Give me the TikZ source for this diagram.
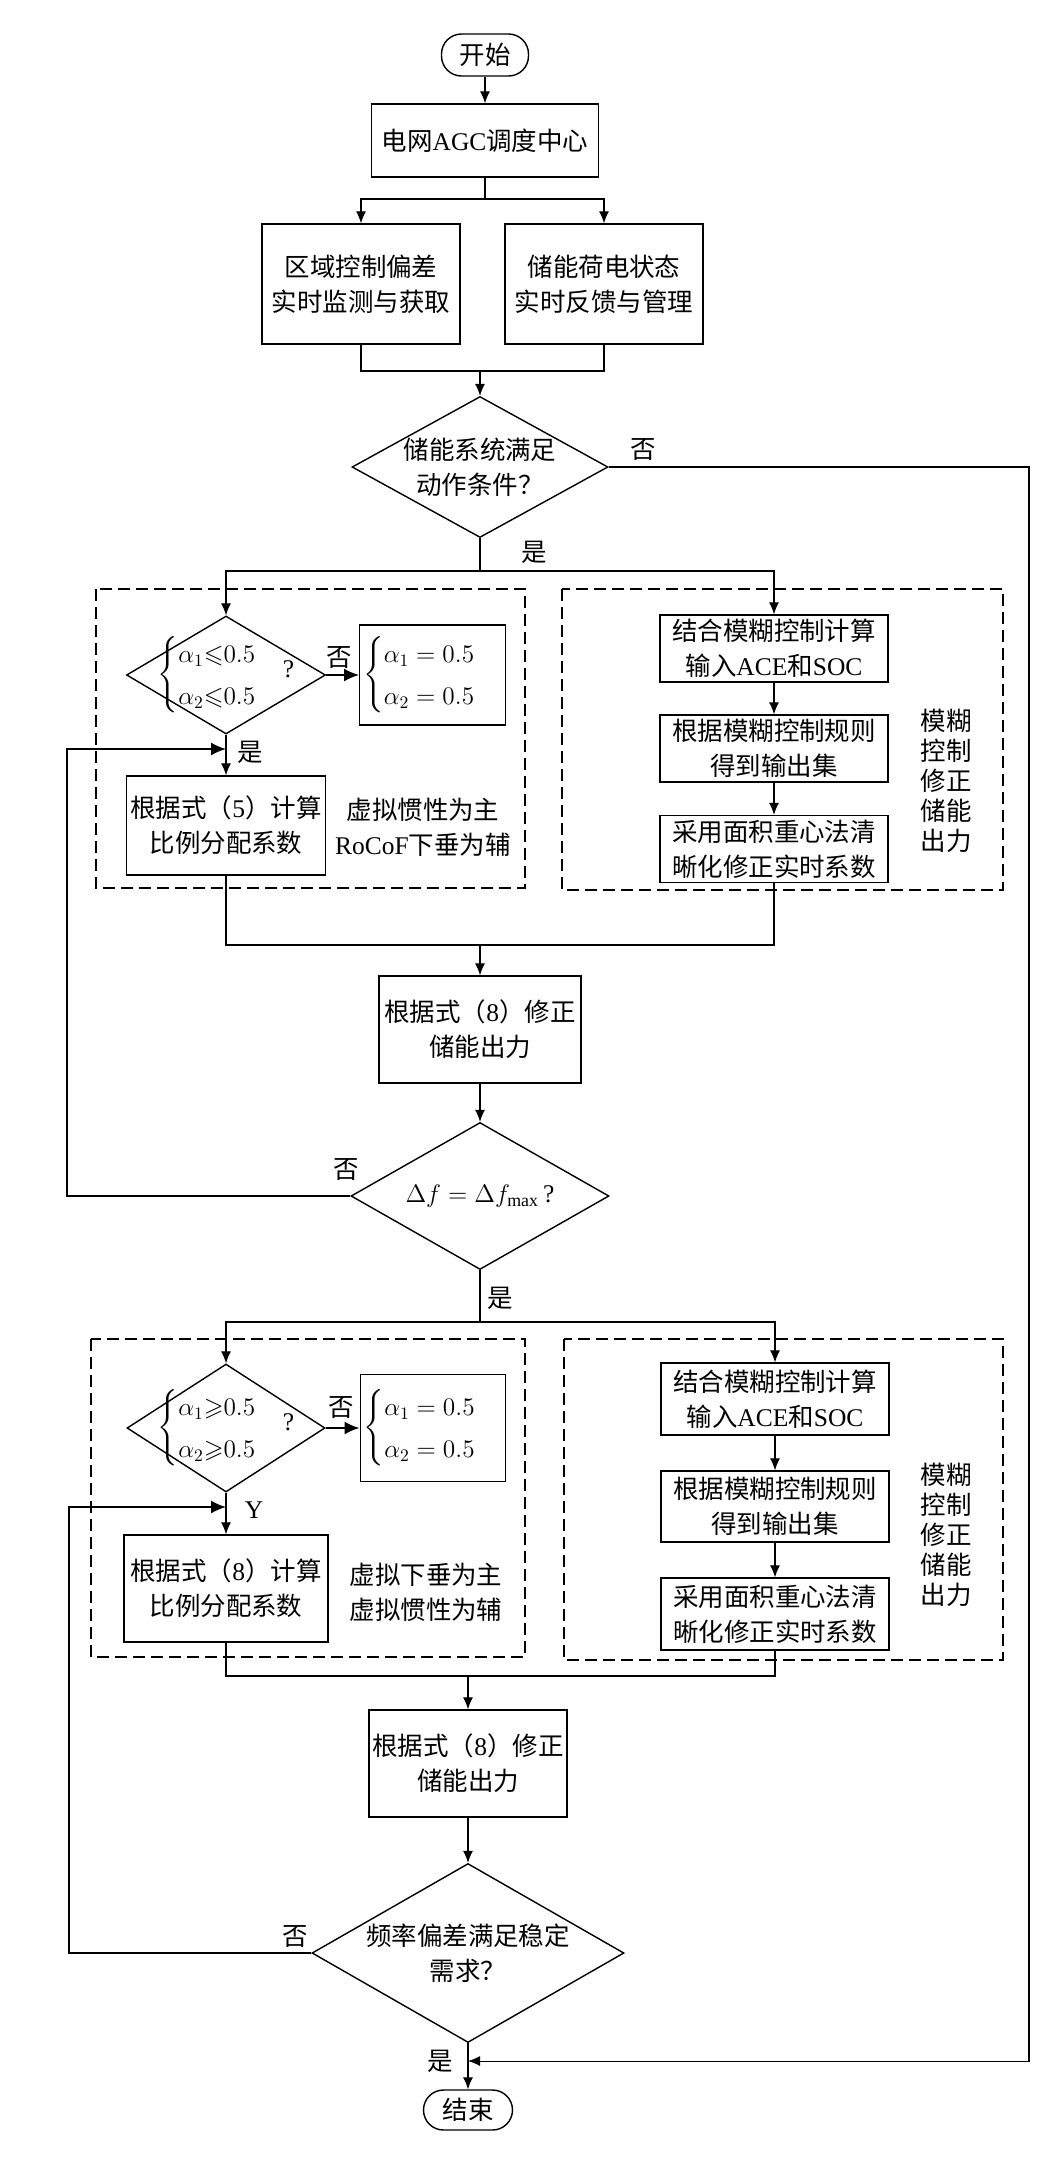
\documentclass[tikz,border=0pt]{standalone}
\usepackage{amsmath,amssymb}
\usepackage{fontspec}
\setmainfont{Liberation Serif}
\newfontfamily\cjk{Noto Sans CJK SC}
\newcommand{\en}[1]{{\rmfamily #1}}
\usetikzlibrary{
	arrows.meta,
	positioning,
	shapes.geometric,
	calc
}
\tikzset{
  % arrow
	cstra/.style      ={-{Latex[length=0.24cm,width=0.2cm]}},       % right arrow
	cstwra/.style     ={-{Latex[length=0.3cm,width=0.26cm]}, line width=1pt}, % wide ra
  % line
	cstdash/.style    ={line width=0.6pt, dash pattern= on 0.24cm off 0.12cm}, %虚线
  % node
	cstnode/.style    ={draw=black,text=black,line width=0.8pt,align=center,inner sep=2pt},
	cstbox/.style     ={cstnode,rectangle},
	cstdia/.style     ={cstnode,diamond,inner sep=-0.6cm},
	cstterm/.style    ={cstnode,rectangle,rounded corners=0.4cm},
	cstlab/.style     ={inner sep=1pt,align=center}
}
\begin{document}
\begin{tikzpicture}[line width=0.6pt, font=\cjk\fontsize{14.5}{19.9}\selectfont]
	\useasboundingbox (0,0) rectangle (20.92,-43.18);
	% 上部
	\node[cstterm, minimum width=1.74cm, minimum height=0.84cm] (start) at (9.7,-1.1) {开始};
	\node[cstbox, minimum width=4.54cm, minimum height=1.46cm] (agc) at (9.7,-2.81) {电网\en{AGC}调度中心};
	\node[cstbox, minimum width=3.96cm, minimum height=2.4cm] (lbox1) at (7.22,-5.68) {区域控制偏差\\实时监测与获取};
	\node[cstbox, minimum width=3.96cm, minimum height=2.4cm] (rbox1) at (12.08,-5.68) {储能荷电状态\\实时反馈与管理};
	\node[cstdia, minimum width=5.12cm, minimum height=2.82cm] (dia1) at (9.6,-9.34) {储能系统满足\\动作条件？};
	\coordinate (s1) at (9.7,-3.98);
	\coordinate (m1) at (9.6,-7.42);
	\coordinate (s2) at (9.6,-11.42);
	\coordinate (rr) at (20.58,-41.22);
	\draw[cstra] (start) -- (agc);
	\draw (agc) -- (s1);
	\draw[cstra] (s1) -| (lbox1);
	\draw[cstra] (s1) -| (rbox1);
	\draw (lbox1) |- (m1);
	\draw (rbox1) |- (m1);
	\draw[cstra] (m1) -- (dia1);
	\draw (dia1) -- (s2);
	\node[cstlab] (no1) at (12.86,-9.0) {否};
	\node[cstlab] (yes1) at (10.68,-11.04) {是};
	% 第一组
	\draw[cstdash] (1.92,-11.78) rectangle (10.5,-17.76);
	\draw[cstdash] (11.24,-11.78) rectangle (20.06,-17.8);
	\node[cstdia, minimum width=3.98cm, minimum height=2.36cm] (sdia1) at (4.52,-13.5)
		{$\begin{cases}\alpha_1{\leqslant}0.5\\ \alpha_2{\leqslant}0.5\end{cases}$\raisebox{2pt}{\en{?}}};
	\node[cstbox, minimum width=2.82cm, minimum height=2.0cm] (abox1) at (8.65,-13.5)
		{$\begin{cases}\alpha_1=0.5\\ \alpha_2=0.5\end{cases}$};
	\node[cstbox, minimum width=3.98cm, minimum height=1.98cm] (cbox1) at (4.52,-16.51) {根据式（\en{5}）计算\\比例分配系数};
	\node[cstlab] (note1) at (8.46,-16.54) {虚拟惯性为主\\\en{RoCoF}下垂为辅};
	\node[cstbox, minimum width=4.56cm, minimum height=1.34cm] (f1) at (15.48,-12.97) {结合模糊控制计算\\输入\en{ACE}和\en{SOC}};
	\node[cstbox, minimum width=4.56cm, minimum height=1.34cm] (f2) at (15.48,-14.97) {根据模糊控制规则\\得到输出集};
	\node[cstbox, minimum width=4.56cm, minimum height=1.34cm] (f3) at (15.48,-16.98) {采用面积重心法清\\晰化修正实时系数};
	\node[cstlab, font=\cjk\fontsize{14.5}{17}\selectfont] (fz1) at (18.92,-15.62) {模糊\\控制\\修正\\储能\\出力};
	\coordinate (fb1) at (4.52,-14.98);
	\coordinate (m2) at (9.6,-18.9);
	\draw[cstra] (s2) -| (sdia1);
	\draw[cstra] (s2) -| (f1);
	\draw[cstwra] (sdia1) -- (abox1);
	\draw[cstra] (sdia1) -- (cbox1);
	\draw[cstra] (f1) -- (f2);
	\draw[cstra] (f2) -- (f3);
	\draw (cbox1) |- (m2);
	\draw (f3) |- (m2);
	\node[cstlab] (no2) at (6.78,-13.16) {否};
	\node[cstlab] (yes2) at (5.0,-15.04) {是};
	% 中部
	\node[cstbox, minimum width=4.04cm, minimum height=2.14cm] (mbox1) at (9.6,-20.59) {根据式（\en{8}）修正\\储能出力};
	\node[cstdia, minimum width=5.16cm, minimum height=2.94cm] (dia2) at (9.6,-23.92) {$\Delta f=\Delta f_{\max}$\,\en{?}};
	\coordinate (fbl1) at (1.34,-23.92);
	\coordinate (s3) at (9.6,-26.44);
	\draw[cstra] (m2) -- (mbox1);
	\draw[cstra] (mbox1) -- (dia2);
	\draw[cstwra] (dia2) -- (fbl1) |- (fb1);
	\draw (dia2) -- (s3);
	\node[cstlab] (no3) at (6.92,-23.4) {否};
	\node[cstlab] (yes3) at (10.0,-25.96) {是};
	% 第二组
	\draw[cstdash] (1.82,-26.78) rectangle (10.5,-33.14);
	\draw[cstdash] (11.28,-26.78) rectangle (20.06,-33.2);
	\node[cstdia, minimum width=3.96cm, minimum height=2.56cm] (sdia2) at (4.52,-28.56)
		{$\begin{cases}\alpha_1{\geqslant}0.5\\ \alpha_2{\geqslant}0.5\end{cases}$\raisebox{2pt}{\en{?}}};
	\node[cstbox, minimum width=2.76cm, minimum height=2.14cm] (abox2) at (8.66,-28.56)
		{$\begin{cases}\alpha_1=0.5\\ \alpha_2=0.5\end{cases}$};
	\node[cstbox, minimum width=4.08cm, minimum height=2.14cm] (cbox2) at (4.52,-31.77) {根据式（\en{8}）计算\\比例分配系数};
	\node[cstlab] (note2) at (8.52,-31.84) {虚拟下垂为主\\虚拟惯性为辅};
	\node[cstbox, minimum width=4.56cm, minimum height=1.44cm] (g1) at (15.5,-27.98) {结合模糊控制计算\\输入\en{ACE}和\en{SOC}};
	\node[cstbox, minimum width=4.56cm, minimum height=1.42cm] (g2) at (15.5,-30.13) {根据模糊控制规则\\得到输出集};
	\node[cstbox, minimum width=4.56cm, minimum height=1.44cm] (g3) at (15.5,-32.28) {采用面积重心法清\\晰化修正实时系数};
	\node[cstlab, font=\cjk\fontsize{14.5}{17}\selectfont] (fz2) at (18.92,-30.7) {模糊\\控制\\修正\\储能\\出力};
	\coordinate (fb2) at (4.52,-30.14);
	\coordinate (m3) at (9.36,-33.52);
	\draw[cstra] (s3) -| (sdia2);
	\draw[cstra] (s3) -| (g1);
	\draw[cstwra] (sdia2) -- (abox2);
	\draw[cstra] (sdia2) -- (cbox2);
	\draw[cstra] (g1) -- (g2);
	\draw[cstra] (g2) -- (g3);
	\draw (cbox2) |- (m3);
	\draw (g3) |- (m3);
	\node[cstlab] (no4) at (6.82,-28.16) {否};
	\node[cstlab] (yes4) at (5.08,-30.2) {\en{Y}};
	% 下部
	\node[cstbox, minimum width=3.9cm, minimum height=2.14cm] (mbox2) at (9.36,-35.27) {根据式（\en{8}）修正\\储能出力};
	\node[cstdia, minimum width=6.24cm, minimum height=3.58cm] (dia3) at (9.36,-39.06) {频率偏差满足稳定\\需求？};
	\node[cstterm, minimum width=1.78cm, minimum height=0.8cm] (end) at (9.36,-42.2) {结束};
	\coordinate (fbl2) at (1.38,-39.06);
	\coordinate (y3) at (9.36,-41.22);
	\draw[cstra] (m3) -- (mbox2);
	\draw[cstra] (mbox2) -- (dia3);
	\draw[cstwra] (dia3) -- (fbl2) |- (fb2);
	\draw[cstra] (dia3) -- (end);
	\draw[cstra] (dia1) -| (rr) -- (y3);
	\node[cstlab] (no5) at (5.9,-38.74) {否};
	\node[cstlab] (yes5) at (8.8,-41.22) {是};
\end{tikzpicture}
\end{document}
